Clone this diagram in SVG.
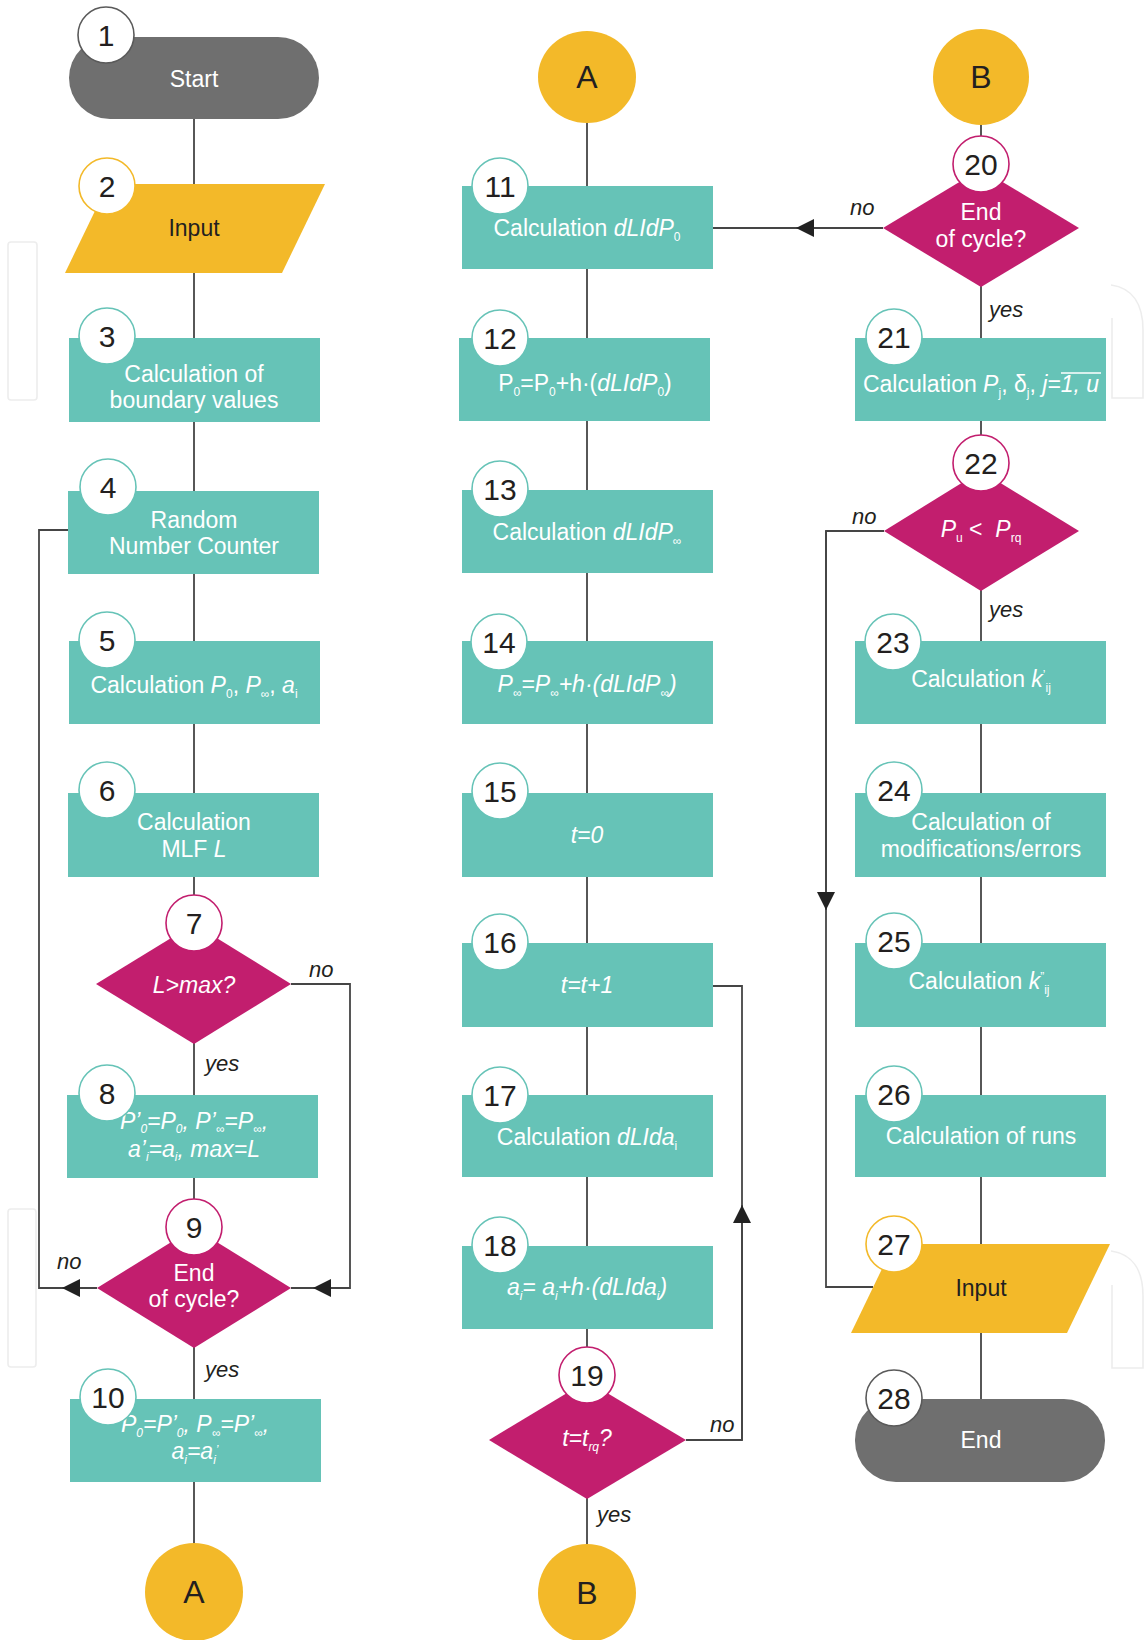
<svg xmlns="http://www.w3.org/2000/svg" width="1146" height="1640" viewBox="0 0 1146 1640">
<style>
.box{fill:#66c3b7}
.dec{fill:#c21e6e}
.io{fill:#f3b929}
.term{fill:#6f6f6f}
.con{fill:#f3b929}
.nc{fill:#fff;stroke-width:1.6}
.ct{stroke:#66c3b7}
.cd{stroke:#c21e6e}
.ci{stroke:#f3b929}
.cg{stroke:#5a5a5a}
.nt{font-family:"Liberation Sans",Arial,sans-serif;font-size:30px;fill:#231f20;text-anchor:middle}
.t{font-family:"Liberation Sans",Arial,sans-serif;font-size:23px;fill:#fff;text-anchor:middle}
.dk{fill:#231f20}
.big{font-size:32px}
.i{font-style:italic}
.s{font-size:12px}
.lbl{font-family:"Liberation Sans",Arial,sans-serif;font-style:italic;font-size:22px;fill:#231f20}
.ln{stroke:#454545;stroke-width:1.8;fill:none}
.wm{stroke:#ededed;stroke-width:1.6;fill:none}
</style>
<defs>
<marker id="arr" markerUnits="userSpaceOnUse" markerWidth="18" markerHeight="18" viewBox="0 0 18 18" refX="18" refY="9" orient="auto">
<path d="M0,0 L18,9 L0,18 Z" fill="#222"/>
</marker>
</defs>

<g id="watermark">
<rect class="wm" x="8" y="242" width="29" height="158" rx="3"/>
<rect class="wm" x="8" y="1209" width="28" height="158" rx="3"/>
<path class="wm" d="M1111,285 C1133,288 1143,305 1143,330 V398 H1112 V318"/>
<path class="wm" d="M1111,1251 C1133,1254 1143,1271 1143,1296 V1368 H1112 V1285"/>
</g>

<g id="connectors">
<path class="ln" d="M194,119 V1545"/>
<path class="ln" d="M587,123 V1545"/>
<path class="ln" d="M981,125 V1399"/>
<path class="ln" d="M291,984 H350 V1288 H291"/>
<path class="ln" d="M350,1288 H313" marker-end="url(#arr)"/>
<path class="ln" d="M97,1288 H39 V530 H68"/>
<path class="ln" d="M97,1288 H62" marker-end="url(#arr)"/>
<path class="ln" d="M686,1440 H742 V986 H713"/>
<path class="ln" d="M742,1440 V1205" marker-end="url(#arr)"/>
<path class="ln" d="M883,228 H713"/>
<path class="ln" d="M883,228 H796" marker-end="url(#arr)"/>
<path class="ln" d="M884,531 H826 V1287 H873"/>
<path class="ln" d="M826,531 V910" marker-end="url(#arr)"/>
<text class="lbl" x="309" y="977">no</text>
<text class="lbl" x="205" y="1071">yes</text>
<text class="lbl" x="57" y="1269">no</text>
<text class="lbl" x="205" y="1377">yes</text>
<text class="lbl" x="710" y="1432">no</text>
<text class="lbl" x="597" y="1522">yes</text>
<text class="lbl" x="850" y="215">no</text>
<text class="lbl" x="989" y="317">yes</text>
<text class="lbl" x="852" y="524">no</text>
<text class="lbl" x="989" y="617">yes</text>
</g>

<g id="n1">
<rect class="term" x="69" y="37" width="250" height="82" rx="41"/>
<text class="t" x="194" y="87">Start</text>
<circle class="nc cg" cx="106" cy="35" r="28"/>
<text class="nt" x="106" y="46">1</text>
</g>

<g id="n2">
<polygon class="io" points="108,184 325,184 282,273 65,273"/>
<text class="t dk" x="194" y="236">Input</text>
<circle class="nc ci" cx="107" cy="186" r="28"/>
<text class="nt" x="107" y="197">2</text>
</g>

<g id="n3">
<rect class="box" x="69" y="338" width="251" height="84"/>
<text class="t" x="194" y="382">Calculation of</text>
<text class="t" x="194" y="408">boundary values</text>
<circle class="nc ct" cx="107" cy="336" r="28"/>
<text class="nt" x="107" y="347">3</text>
</g>

<g id="n4">
<rect class="box" x="68" y="491" width="251" height="83"/>
<text class="t" x="194" y="528">Random</text>
<text class="t" x="194" y="554">Number Counter</text>
<circle class="nc ct" cx="108" cy="487" r="28"/>
<text class="nt" x="108" y="498">4</text>
</g>

<g id="n5">
<rect class="box" x="69" y="641" width="251" height="83"/>
<text class="t" x="194" y="693">Calculation <tspan class="i">P</tspan><tspan class="s" dy="5">0</tspan><tspan dy="-5">, </tspan><tspan class="i">P</tspan><tspan class="s" dy="5">∞</tspan><tspan dy="-5">, </tspan><tspan class="i">a</tspan><tspan class="s" dy="5">i</tspan></text>
<circle class="nc ct" cx="107" cy="640" r="28"/>
<text class="nt" x="107" y="651">5</text>
</g>

<g id="n6">
<rect class="box" x="68" y="793" width="251" height="84"/>
<text class="t" x="194" y="830">Calculation</text>
<text class="t" x="194" y="857">MLF <tspan class="i">L</tspan></text>
<circle class="nc ct" cx="107" cy="790" r="28"/>
<text class="nt" x="107" y="801">6</text>
</g>

<g id="n7">
<polygon class="dec" points="96,984 194,924 291,984 194,1044"/>
<text class="t i" x="194" y="993">L&gt;max?</text>
<circle class="nc cd" cx="194" cy="923" r="28"/>
<text class="nt" x="194" y="934">7</text>
</g>

<g id="n8">
<rect class="box" x="67" y="1095" width="251" height="83"/>
<text class="t i" x="194" y="1129">P’<tspan class="s" dy="4">0</tspan><tspan dy="-4">=P</tspan><tspan class="s" dy="4">0</tspan><tspan dy="-4">, P’</tspan><tspan class="s" dy="4">∞</tspan><tspan dy="-4">=P</tspan><tspan class="s" dy="4">∞</tspan><tspan dy="-4">,</tspan></text>
<text class="t i" x="194" y="1157">a’<tspan class="s" dy="4">i</tspan><tspan dy="-4">=a</tspan><tspan class="s" dy="4">i</tspan><tspan dy="-4">, max=L</tspan></text>
<circle class="nc ct" cx="107" cy="1093" r="28"/>
<text class="nt" x="107" y="1104">8</text>
</g>

<g id="n9">
<polygon class="dec" points="97,1288 194,1228 291,1288 194,1348"/>
<text class="t" x="194" y="1281">End</text>
<text class="t" x="194" y="1307">of cycle?</text>
<circle class="nc cd" cx="194" cy="1227" r="28"/>
<text class="nt" x="194" y="1238">9</text>
</g>

<g id="n10">
<rect class="box" x="70" y="1399" width="251" height="83"/>
<text class="t i" x="195" y="1432">P<tspan class="s" dy="5">0</tspan><tspan dy="-5">=P’</tspan><tspan class="s" dy="5">0</tspan><tspan dy="-5">, P</tspan><tspan class="s" dy="5">∞</tspan><tspan dy="-5">=P’</tspan><tspan class="s" dy="5">∞</tspan><tspan dy="-5">,</tspan></text>
<text class="t i" x="195" y="1459">a<tspan class="s" dy="5">i</tspan><tspan dy="-5">=a</tspan><tspan class="s" dy="5">i</tspan><tspan class="s" dy="-10">’</tspan></text>
<circle class="nc ct" cx="108" cy="1397" r="28"/>
<text class="nt" x="108" y="1408">10</text>
</g>

<g id="nA1">
<circle class="con" cx="194" cy="1592" r="49"/>
<text class="nt big" x="194" y="1603">A</text>
</g>

<g id="nA2">
<ellipse class="con" cx="587" cy="77" rx="49" ry="46"/>
<text class="nt big" x="587" y="88">A</text>
</g>

<g id="n11">
<rect class="box" x="462" y="186" width="251" height="83"/>
<text class="t" x="587" y="236">Calculation <tspan class="i">dLIdP</tspan><tspan class="s" dy="5">0</tspan></text>
<circle class="nc ct" cx="500" cy="186" r="28"/>
<text class="nt" x="500" y="197">11</text>
</g>

<g id="n12">
<rect class="box" x="459" y="338" width="251" height="83"/>
<text class="t" x="585" y="391">P<tspan class="s" dy="5">0</tspan><tspan dy="-5">=P</tspan><tspan class="s" dy="5">0</tspan><tspan dy="-5">+h·(</tspan><tspan class="i">dLIdP</tspan><tspan class="s" dy="5">0</tspan><tspan dy="-5">)</tspan></text>
<circle class="nc ct" cx="500" cy="338" r="28"/>
<text class="nt" x="500" y="349">12</text>
</g>

<g id="n13">
<rect class="box" x="462" y="490" width="251" height="83"/>
<text class="t" x="587" y="540">Calculation <tspan class="i">dLIdP</tspan><tspan class="s" dy="5">∞</tspan></text>
<circle class="nc ct" cx="500" cy="489" r="28"/>
<text class="nt" x="500" y="500">13</text>
</g>

<g id="n14">
<rect class="box" x="462" y="641" width="251" height="83"/>
<text class="t i" x="587" y="692">P<tspan class="s" dy="5">∞</tspan><tspan dy="-5">=P</tspan><tspan class="s" dy="5">∞</tspan><tspan dy="-5">+h·(dLIdP</tspan><tspan class="s" dy="5">∞</tspan><tspan dy="-5">)</tspan></text>
<circle class="nc ct" cx="499" cy="642" r="28"/>
<text class="nt" x="499" y="653">14</text>
</g>

<g id="n15">
<rect class="box" x="462" y="793" width="251" height="84"/>
<text class="t i" x="587" y="843">t=0</text>
<circle class="nc ct" cx="500" cy="791" r="28"/>
<text class="nt" x="500" y="802">15</text>
</g>

<g id="n16">
<rect class="box" x="462" y="943" width="251" height="84"/>
<text class="t i" x="587" y="993">t=t+1</text>
<circle class="nc ct" cx="500" cy="942" r="28"/>
<text class="nt" x="500" y="953">16</text>
</g>

<g id="n17">
<rect class="box" x="462" y="1095" width="251" height="82"/>
<text class="t" x="587" y="1145">Calculation <tspan class="i">dLIda</tspan><tspan class="s" dy="5">i</tspan></text>
<circle class="nc ct" cx="500" cy="1095" r="28"/>
<text class="nt" x="500" y="1106">17</text>
</g>

<g id="n18">
<rect class="box" x="462" y="1246" width="251" height="83"/>
<text class="t i" x="587" y="1295">a<tspan class="s" dy="5">i</tspan><tspan dy="-5">= a</tspan><tspan class="s" dy="5">i</tspan><tspan dy="-5">+h·(dLIda</tspan><tspan class="s" dy="5">i</tspan><tspan dy="-5">)</tspan></text>
<circle class="nc ct" cx="500" cy="1245" r="28"/>
<text class="nt" x="500" y="1256">18</text>
</g>

<g id="n19">
<polygon class="dec" points="489,1440 587,1381 686,1440 587,1499"/>
<text class="t i" x="587" y="1446">t=t<tspan class="s" dy="5">rq</tspan><tspan dy="-5">?</tspan></text>
<circle class="nc cd" cx="587" cy="1375" r="28"/>
<text class="nt" x="587" y="1386">19</text>
</g>

<g id="nB2">
<circle class="con" cx="587" cy="1593" r="49"/>
<text class="nt big" x="587" y="1604">B</text>
</g>

<g id="nB1">
<circle class="con" cx="981" cy="77" r="48"/>
<text class="nt big" x="981" y="88">B</text>
</g>

<g id="n20">
<polygon class="dec" points="883,228 981,169 1079,228 981,287"/>
<text class="t" x="981" y="220">End</text>
<text class="t" x="981" y="247">of cycle?</text>
<circle class="nc cd" cx="981" cy="164" r="28"/>
<text class="nt" x="981" y="175">20</text>
</g>

<g id="n21">
<rect class="box" x="855" y="338" width="251" height="83"/>
<text class="t" x="981" y="392">Calculation <tspan class="i">P</tspan><tspan class="s" dy="5">j</tspan><tspan dy="-5">, δ</tspan><tspan class="s" dy="5">j</tspan><tspan dy="-5">, </tspan><tspan class="i">j=1, u</tspan></text>
<line x1="1061" y1="373" x2="1101" y2="373" stroke="#fff" stroke-width="1.6"/>
<circle class="nc ct" cx="894" cy="337" r="28"/>
<text class="nt" x="894" y="348">21</text>
</g>

<g id="n22">
<polygon class="dec" points="884,531 981,471 1079,531 981,591"/>
<text class="t" x="981" y="537"><tspan class="i">P</tspan><tspan class="s" dy="5">u</tspan><tspan dy="-5">&#160;&lt;&#160;&#160;</tspan><tspan class="i">P</tspan><tspan class="s" dy="5">rq</tspan></text>
<circle class="nc cd" cx="981" cy="463" r="28"/>
<text class="nt" x="981" y="474">22</text>
</g>

<g id="n23">
<rect class="box" x="855" y="641" width="251" height="83"/>
<text class="t" x="981" y="687">Calculation <tspan class="i">k</tspan><tspan class="s" dy="-8">’</tspan><tspan class="s" dy="13">ij</tspan></text>
<circle class="nc ct" cx="893" cy="642" r="28"/>
<text class="nt" x="893" y="653">23</text>
</g>

<g id="n24">
<rect class="box" x="855" y="793" width="251" height="84"/>
<text class="t" x="981" y="830">Calculation of</text>
<text class="t" x="981" y="857">modifications/errors</text>
<circle class="nc ct" cx="894" cy="790" r="28"/>
<text class="nt" x="894" y="801">24</text>
</g>

<g id="n25">
<rect class="box" x="855" y="943" width="251" height="84"/>
<text class="t" x="979" y="989">Calculation <tspan class="i">k</tspan><tspan class="s" dy="-8">”</tspan><tspan class="s" dy="13">ij</tspan></text>
<circle class="nc ct" cx="894" cy="941" r="28"/>
<text class="nt" x="894" y="952">25</text>
</g>

<g id="n26">
<rect class="box" x="855" y="1095" width="251" height="82"/>
<text class="t" x="981" y="1144">Calculation of runs</text>
<circle class="nc ct" cx="894" cy="1094" r="28"/>
<text class="nt" x="894" y="1105">26</text>
</g>

<g id="n27">
<polygon class="io" points="894,1244 1110,1244 1067,1333 851,1333"/>
<text class="t dk" x="981" y="1296">Input</text>
<circle class="nc ci" cx="894" cy="1244" r="28"/>
<text class="nt" x="894" y="1255">27</text>
</g>

<g id="n28">
<rect class="term" x="855" y="1399" width="250" height="83" rx="41"/>
<text class="t" x="981" y="1448">End</text>
<circle class="nc cg" cx="894" cy="1398" r="28"/>
<text class="nt" x="894" y="1409">28</text>
</g>
</svg>
